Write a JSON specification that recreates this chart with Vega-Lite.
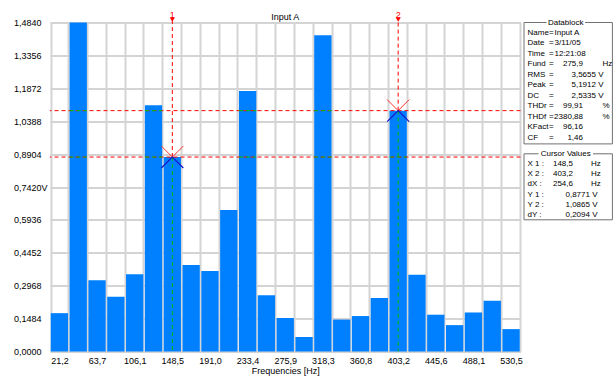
{
  "$schema": "https://vega.github.io/schema/vega-lite/v6.json",
  "padding": {"left": 13, "top": 10.5, "right": 0, "bottom": 0},
  "background": "white",
  "spacing": 3,
  "bounds": "flush",
  "config": {
    "view": {"stroke": null},
    "font": "Liberation Sans",
    "text": {"font": "Liberation Sans", "fontSize": 8, "color": "#000000"},
    "axis": {"labelFont": "Liberation Sans", "titleFont": "Liberation Sans", "labelFontSize": 9, "titleFontSize": 9, "labelColor": "#000000", "titleColor": "#000000", "titleFontWeight": "normal"},
    "title": {"font": "Liberation Sans", "fontSize": 9, "fontWeight": "normal", "color": "#000000"}
  },
  "datasets": {
    "spectrum": [
      {"f": "21,2", "v": 0.173},
      {"f": "42,4", "v": 1.484},
      {"f": "63,7", "v": 0.321},
      {"f": "84,9", "v": 0.247},
      {"f": "106,1", "v": 0.349},
      {"f": "127,3", "v": 1.111},
      {"f": "148,5", "v": 0.8771},
      {"f": "169,8", "v": 0.39},
      {"f": "191,0", "v": 0.363},
      {"f": "212,2", "v": 0.638},
      {"f": "233,4", "v": 1.175},
      {"f": "254,6", "v": 0.254},
      {"f": "275,9", "v": 0.151},
      {"f": "297,1", "v": 0.065},
      {"f": "318,3", "v": 1.427},
      {"f": "339,5", "v": 0.144},
      {"f": "360,8", "v": 0.16},
      {"f": "382,0", "v": 0.241},
      {"f": "403,2", "v": 1.0865},
      {"f": "424,4", "v": 0.346},
      {"f": "445,6", "v": 0.166},
      {"f": "466,8", "v": 0.119},
      {"f": "488,1", "v": 0.176},
      {"f": "509,3", "v": 0.229},
      {"f": "530,5", "v": 0.101}
    ],
    "cursors": [
      {"c": "1", "f": "148,5", "y": 0.8771},
      {"c": "2", "f": "403,2", "y": 1.0865}
    ],
    "datablock": [
      {"line": 1, "label": "Name", "eq": "=", "txt": "Input A", "num": "", "numv": "", "unit": ""},
      {"line": 2, "label": "Date", "eq": "=", "txt": "3/11/05", "num": "", "numv": "", "unit": ""},
      {"line": 3, "label": "Time", "eq": "=", "txt": "12:21:08", "num": "", "numv": "", "unit": ""},
      {"line": 4, "label": "Fund", "eq": "=", "txt": "", "num": "275,9", "numv": "", "unit": "Hz"},
      {"line": 5, "label": "RMS", "eq": "=", "txt": "", "num": "", "numv": "3,5655 V", "unit": ""},
      {"line": 6, "label": "Peak", "eq": "=", "txt": "", "num": "", "numv": "5,1912 V", "unit": ""},
      {"line": 7, "label": "DC", "eq": "=", "txt": "", "num": "", "numv": "2,5335 V", "unit": ""},
      {"line": 8, "label": "THDr", "eq": "=", "txt": "", "num": "99,91", "numv": "", "unit": "%"},
      {"line": 9, "label": "THDf", "eq": "=", "txt": "", "num": "2380,88", "numv": "", "unit": "%"},
      {"line": 10, "label": "KFact", "eq": "=", "txt": "", "num": "96,16", "numv": "", "unit": ""},
      {"line": 11, "label": "CF", "eq": "=", "txt": "", "num": "1,46", "numv": "", "unit": ""}
    ],
    "cursorvals": [
      {"line": 1, "label": "X 1 :", "num": "148,5", "numv": "", "unit": "Hz"},
      {"line": 2, "label": "X 2 :", "num": "403,2", "numv": "", "unit": "Hz"},
      {"line": 3, "label": "dX :", "num": "254,6", "numv": "", "unit": "Hz"},
      {"line": 4, "label": "Y 1 :", "num": "", "numv": "0,8771 V", "unit": ""},
      {"line": 5, "label": "Y 2 :", "num": "", "numv": "1,0865 V", "unit": ""},
      {"line": 6, "label": "dY :", "num": "", "numv": "0,2094 V", "unit": ""}
    ]
  },
  "hconcat": [
    {
      "width": 470.5,
      "height": 329,
      "title": {"text": "Input A", "anchor": "middle", "baseline": "middle", "offset": -15},
      "layer": [
        {
          "data": {"name": "spectrum"},
          "mark": {"type": "bar", "color": "#0080ff"},
          "encoding": {
            "x": {
              "field": "f", "type": "ordinal", "sort": null,
              "scale": {"domain": ["21,2","42,4","63,7","84,9","106,1","127,3","148,5","169,8","191,0","212,2","233,4","254,6","275,9","297,1","318,3","339,5","360,8","382,0","403,2","424,4","445,6","466,8","488,1","509,3","530,5"], "paddingInner": 0.08, "paddingOuter": 0.04},
              "axis": {
                "title": "Frequencies [Hz]", "tickBand": "extent", "grid": true, "gridColor": "#d4d4d4", "gridWidth": 2,
                "domain": false, "ticks": false, "tickSize": 0, "labelAngle": 0, "labelPadding": 4.5, "titlePadding": 1,
                "labelOverlap": false,
                "labelExpr": "indexof(['21,2','63,7','106,1','148,5','191,0','233,4','275,9','318,3','360,8','403,2','445,6','488,1','530,5'], datum.value) >= 0 ? datum.value : ''"
              }
            },
            "y": {
              "field": "v", "type": "quantitative",
              "scale": {"domain": [0, 1.484], "nice": false, "zero": true},
              "axis": {
                "title": null, "values": [0, 0.1484, 0.2968, 0.4452, 0.5936, 0.742, 0.8904, 1.0388, 1.1872, 1.3356, 1.484],
                "tickCount": 12,
                "grid": true, "gridColor": "#d4d4d4", "gridWidth": 2, "domain": false, "ticks": false, "tickSize": 0,
                "labelAlign": "left", "labelPadding": 36.6, "labelOverlap": false, "labelFlush": false,
                "labelExpr": "replace(format(datum.value, '.4f'), '.', ',') + (abs(datum.value - 0.742) < 0.0001 ? 'V' : '')"
              }
            }
          }
        },
        {
          "data": {"name": "cursors"},
          "mark": {"type": "rule", "color": "#ff0000", "strokeDash": [4, 3], "strokeWidth": 1},
          "encoding": {"y": {"field": "y", "type": "quantitative"}}
        },
        {
          "data": {"name": "spectrum"},
          "transform": [{"filter": "datum.v > 0.8771"}],
          "mark": {"type": "rule", "color": "#00c000", "strokeDash": [4, 3], "strokeWidth": 1},
          "encoding": {
            "x": {"field": "f", "type": "ordinal", "bandPosition": 0},
            "x2": {"field": "f", "bandPosition": 1},
            "y": {"datum": 0.8771, "type": "quantitative"}
          }
        },
        {
          "data": {"name": "spectrum"},
          "transform": [{"filter": "datum.v > 1.0865"}],
          "mark": {"type": "rule", "color": "#00c000", "strokeDash": [4, 3], "strokeWidth": 1},
          "encoding": {
            "x": {"field": "f", "type": "ordinal", "bandPosition": 0},
            "x2": {"field": "f", "bandPosition": 1},
            "y": {"datum": 1.0865, "type": "quantitative"}
          }
        },
        {
          "data": {"name": "cursors"},
          "mark": {"type": "rule", "color": "#ff0000", "strokeDash": [4, 3], "strokeWidth": 1, "clip": false},
          "encoding": {
            "x": {"field": "f", "type": "ordinal", "bandPosition": 0.5},
            "y": {"field": "y", "type": "quantitative"},
            "y2": {"datum": 1.495}
          }
        },
        {
          "data": {"name": "cursors"},
          "mark": {"type": "rule", "color": "#00c000", "strokeDash": [4, 3], "strokeWidth": 1},
          "encoding": {
            "x": {"field": "f", "type": "ordinal", "bandPosition": 0.5},
            "y": {"field": "y", "type": "quantitative"},
            "y2": {"datum": 0}
          }
        },
        {
          "data": {"name": "cursors"},
          "mark": {"type": "point", "shape": "triangle-down", "filled": true, "color": "#ff0000", "size": 25, "opacity": 1, "clip": false},
          "encoding": {
            "x": {"field": "f", "type": "ordinal", "bandPosition": 0.5},
            "y": {"datum": 1.497, "type": "quantitative"}
          }
        },
        {
          "data": {"name": "cursors"},
          "mark": {"type": "text", "color": "#ff0000", "fontSize": 9, "baseline": "middle", "align": "center", "clip": false},
          "encoding": {
            "x": {"field": "f", "type": "ordinal", "bandPosition": 0.5},
            "y": {"datum": 1.518, "type": "quantitative"},
            "text": {"field": "c"}
          }
        },
        {
          "data": {"name": "cursors"},
          "mark": {"type": "point", "shape": "M-1,-1L0,0L1,-1", "filled": false, "color": "#ff3030", "size": 484, "strokeWidth": 1, "opacity": 1, "clip": false},
          "encoding": {
            "x": {"field": "f", "type": "ordinal", "bandPosition": 0.5},
            "y": {"field": "y", "type": "quantitative"}
          }
        },
        {
          "data": {"name": "cursors"},
          "mark": {"type": "point", "shape": "M-1,1L0,0L1,1", "filled": false, "color": "#1a1acc", "size": 484, "strokeWidth": 1.3, "opacity": 1, "clip": false},
          "encoding": {
            "x": {"field": "f", "type": "ordinal", "bandPosition": 0.5},
            "y": {"field": "y", "type": "quantitative"}
          }
        }
      ]
    },
    {
      "spacing": 9.3,
      "bounds": "flush",
      "vconcat": [
        {
          "width": 88.4,
          "height": 121.4,
          "layer": [
            {
              "data": {"values": [{}]},
              "mark": {"type": "rect", "fill": "#ffffff", "stroke": "#707070", "strokeWidth": 1},
              "encoding": {
                "x": {"datum": 0, "type": "quantitative", "scale": {"domain": [0, 88.4], "nice": false, "zero": false}, "axis": null},
                "x2": {"datum": 88.4},
                "y": {"datum": 0, "type": "quantitative", "scale": {"domain": [0, 11.6], "reverse": true, "nice": false, "zero": false}, "axis": null},
                "y2": {"datum": 11.6}
              }
            },
            {
              "data": {"values": [{}]},
              "mark": {"type": "rect", "fill": "#ffffff", "clip": false},
              "encoding": {
                "x": {"datum": 22.5, "type": "quantitative", "axis": null},
                "x2": {"datum": 61},
                "y": {"datum": -0.3, "type": "quantitative", "axis": null},
                "y2": {"datum": 0.3}
              }
            },
            {
              "data": {"values": [{}]},
              "mark": {"type": "text", "text": "Datablock", "align": "center", "baseline": "middle", "clip": false},
              "encoding": {
                "x": {"datum": 41.7, "type": "quantitative", "axis": null},
                "y": {"datum": 0, "type": "quantitative", "axis": null}
              }
            },
            {
              "data": {"name": "datablock"},
              "mark": {"type": "text", "align": "left", "baseline": "middle"},
              "encoding": {
                "x": {"datum": 3.5, "type": "quantitative", "axis": null},
                "y": {"field": "line", "type": "quantitative", "axis": null},
                "text": {"field": "label"}
              }
            },
            {
              "data": {"name": "datablock"},
              "mark": {"type": "text", "align": "left", "baseline": "middle"},
              "encoding": {
                "x": {"datum": 25, "type": "quantitative", "axis": null},
                "y": {"field": "line", "type": "quantitative", "axis": null},
                "text": {"field": "eq"}
              }
            },
            {
              "data": {"name": "datablock"},
              "mark": {"type": "text", "align": "left", "baseline": "middle"},
              "encoding": {
                "x": {"datum": 30.5, "type": "quantitative", "axis": null},
                "y": {"field": "line", "type": "quantitative", "axis": null},
                "text": {"field": "txt"}
              }
            },
            {
              "data": {"name": "datablock"},
              "mark": {"type": "text", "align": "right", "baseline": "middle"},
              "encoding": {
                "x": {"datum": 59, "type": "quantitative", "axis": null},
                "y": {"field": "line", "type": "quantitative", "axis": null},
                "text": {"field": "num"}
              }
            },
            {
              "data": {"name": "datablock"},
              "mark": {"type": "text", "align": "right", "baseline": "middle"},
              "encoding": {
                "x": {"datum": 79.5, "type": "quantitative", "axis": null},
                "y": {"field": "line", "type": "quantitative", "axis": null},
                "text": {"field": "numv"}
              }
            },
            {
              "data": {"name": "datablock"},
              "mark": {"type": "text", "align": "left", "baseline": "middle"},
              "encoding": {
                "x": {"datum": 78.5, "type": "quantitative", "axis": null},
                "y": {"field": "line", "type": "quantitative", "axis": null},
                "text": {"field": "unit"}
              }
            }
          ]
        },
        {
          "width": 88.4,
          "height": 66,
          "layer": [
            {
              "data": {"values": [{}]},
              "mark": {"type": "rect", "fill": "#ffffff", "stroke": "#707070", "strokeWidth": 1},
              "encoding": {
                "x": {"datum": 0, "type": "quantitative", "scale": {"domain": [0, 88.4], "nice": false, "zero": false}, "axis": null},
                "x2": {"datum": 88.4},
                "y": {"datum": 0, "type": "quantitative", "scale": {"domain": [0, 6.47], "reverse": true, "nice": false, "zero": false}, "axis": null},
                "y2": {"datum": 6.47}
              }
            },
            {
              "data": {"values": [{}]},
              "mark": {"type": "rect", "fill": "#ffffff", "clip": false},
              "encoding": {
                "x": {"datum": 14.5, "type": "quantitative", "axis": null},
                "x2": {"datum": 69},
                "y": {"datum": -0.15, "type": "quantitative", "axis": null},
                "y2": {"datum": 0.15}
              }
            },
            {
              "data": {"values": [{}]},
              "mark": {"type": "text", "text": "Cursor Values", "align": "center", "baseline": "middle", "clip": false},
              "encoding": {
                "x": {"datum": 41.7, "type": "quantitative", "axis": null},
                "y": {"datum": 0, "type": "quantitative", "axis": null}
              }
            },
            {
              "data": {"name": "cursorvals"},
              "mark": {"type": "text", "align": "left", "baseline": "middle"},
              "encoding": {
                "x": {"datum": 3.5, "type": "quantitative", "axis": null},
                "y": {"field": "line", "type": "quantitative", "axis": null},
                "text": {"field": "label"}
              }
            },
            {
              "data": {"name": "cursorvals"},
              "mark": {"type": "text", "align": "right", "baseline": "middle"},
              "encoding": {
                "x": {"datum": 49, "type": "quantitative", "axis": null},
                "y": {"field": "line", "type": "quantitative", "axis": null},
                "text": {"field": "num"}
              }
            },
            {
              "data": {"name": "cursorvals"},
              "mark": {"type": "text", "align": "right", "baseline": "middle"},
              "encoding": {
                "x": {"datum": 73.5, "type": "quantitative", "axis": null},
                "y": {"field": "line", "type": "quantitative", "axis": null},
                "text": {"field": "numv"}
              }
            },
            {
              "data": {"name": "cursorvals"},
              "mark": {"type": "text", "align": "left", "baseline": "middle"},
              "encoding": {
                "x": {"datum": 67, "type": "quantitative", "axis": null},
                "y": {"field": "line", "type": "quantitative", "axis": null},
                "text": {"field": "unit"}
              }
            }
          ]
        }
      ]
    }
  ]
}
